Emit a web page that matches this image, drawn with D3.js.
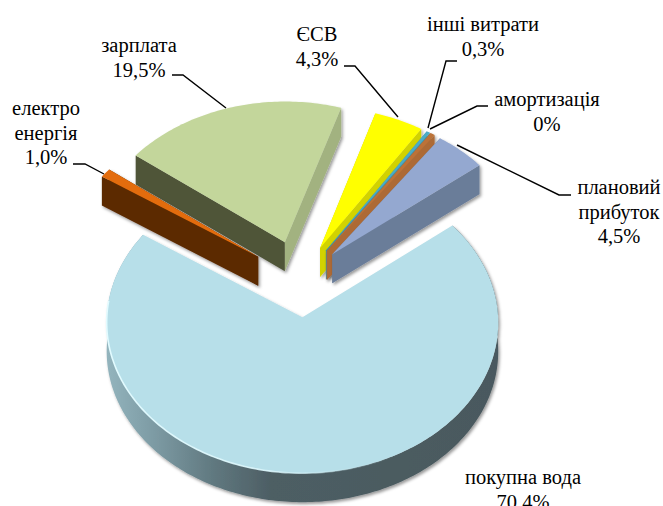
<!DOCTYPE html>
<html><head><meta charset="utf-8">
<script src="https://cdn.jsdelivr.net/npm/d3@7"></script>
<style>html,body{margin:0;padding:0;background:#fff;overflow:hidden}svg{display:block}text{font-family:"Liberation Serif","Times New Roman",serif;font-size:20.5px;fill:#000}</style>
</head><body><svg id="c" width="663" height="506"></svg>
<script>
// Data
const categories = ["покупна вода","електро енергія","зарплата","ЄСВ","інші витрати","амортизація","плановий прибуток"];
const values = [70.4,1.0,19.5,4.3,0.3,0.4,4.5];
const valueLabels = ["70,4%","1,0%","19,5%","4,3%","0,3%","0%","4,5%"];
const labelLines = [["покупна вода","70,4%"],["електро","енергія","1,0%"],["зарплата","19,5%"],["ЄСВ","4,3%"],["інші витрати","0,3%"],["амортизація","0%"],["плановий","прибуток","4,5%"]];
// Style & layout
const topColors = ["#b7dfe9","#e36c0a","#c3d69b","#ffff00","#4bacc6","#bc7237","#94a8d0"];
const wallFirst = ["url(#wallG)","#5c2a03","#4f5439","#d2d200","#3f8fa5","#ad6a35","#6b7d99"];
const wallLast  = ["#4a595e","#5c2a03","#a2b280","#d2d200","#3f8fa5","#ad6a35","#6b7d99"];
const explode = [0.25,0.27,0.27,0.24,0.24,0.24,0.24];
const labelPos = [[523,484],[46,115],[139,52],[317,41],[483,31],[547,106],[619,194]];
const leaders = [null,[[73,164],[85,164],[104,174]],[[172,75],[183,75],[226,108]],[[344,66],[355,66],[398,117]],[[457,61],[446,61],[428,128]],[[488,106],[477,106],[430,129]],[[571,195],[559,195],[457,145]]];
const cx=300.5, cy=280, R=194, K=148, P=0.034, depth=29, lineH=24.5, startDeg=51.5;
const drawOrder=[0,2,1,3,4,5,6];

const svg=d3.select("#c");
const defs=svg.append("defs");
const grad=defs.append("linearGradient").attr("id","wallG").attr("gradientUnits","userSpaceOnUse").attr("x1",107).attr("x2",497).attr("y1",0).attr("y2",0);
[[0,"#93b4bd"],[0.12,"#7d9ba4"],[0.28,"#5f777e"],[0.42,"#4d5e64"],[1,"#4a595e"]].forEach(s=>grad.append("stop").attr("offset",s[0]).attr("stop-color",s[1]));
const rim=defs.append("linearGradient").attr("id","rimG").attr("gradientUnits","userSpaceOnUse").attr("x1",107).attr("x2",400).attr("y1",0).attr("y2",0);
[[0,"#e2fbff",1],[0.55,"#dcf7fc",0.9],[1,"#b7dfe9",0]].forEach(s=>rim.append("stop").attr("offset",s[0]).attr("stop-color",s[1]).attr("stop-opacity",s[2]));
const f=defs.append("filter").attr("id","sh").attr("x","-10%").attr("y","-10%").attr("width","120%").attr("height","120%");
f.append("feDropShadow").attr("dx",1.5).attr("dy",2).attr("stdDeviation",1.6).attr("flood-color","#000").attr("flood-opacity",0.4);

const project=(u,v)=>{const w=1+P*v;return [cx+R*u/w, cy-K*v/w];};
const line=d3.line();
const pie=d3.pie().sort(null).startAngle(startDeg*Math.PI/180).endAngle((startDeg+360)*Math.PI/180);
const arcs=pie(values);
drawOrder.forEach(i=>{
  const a=arcs[i], m=(a.startAngle+a.endAngle)/2, e=explode[i];
  const ax=e*Math.sin(m), ay=e*Math.cos(m);
  const steps=Math.max(4,Math.ceil((a.endAngle-a.startAngle)*60));
  const rimPts=d3.range(steps+1).map(s=>{const t=a.startAngle+(a.endAngle-a.startAngle)*s/steps;return project(ax+Math.sin(t),ay+Math.cos(t));});
  const apex=project(ax,ay);
  const down=p=>[p[0],p[1]+depth];
  const g=svg.append("g").attr("filter","url(#sh)");
  const first=rimPts[0], last=rimPts[rimPts.length-1];
  if(i===0) g.append("path").attr("d",line(rimPts.concat(rimPts.slice().reverse().map(down)))+"Z").attr("fill",wallFirst[i]);
  if(i!==0){
    g.append("path").attr("d",line([apex,first,down(first),down(apex)])+"Z").attr("fill",wallFirst[i]);
    g.append("path").attr("d",line([apex,last,down(last),down(apex)])+"Z").attr("fill",wallLast[i]);
  }
  g.append("path").attr("d",line([apex].concat(rimPts))+"Z").attr("fill",topColors[i]);
  if(i===0){
    const part=rimPts.filter(p=>p[1]>300&&p[0]<400);
    svg.append("path").attr("d",line(part)).attr("fill","none").attr("stroke","url(#rimG)").attr("stroke-width",1.6);
  }
});
leaders.forEach(l=>{ if(l) svg.append("path").attr("d",line(l)).attr("fill","none").attr("stroke","#000").attr("stroke-width",1.4); });
labelLines.forEach((ls,i)=>{
  const t=svg.append("text").attr("text-anchor","middle");
  ls.forEach((s,j)=>t.append("tspan").attr("x",labelPos[i][0]).attr("y",labelPos[i][1]+j*lineH).text(s));
});
</script></body></html>
